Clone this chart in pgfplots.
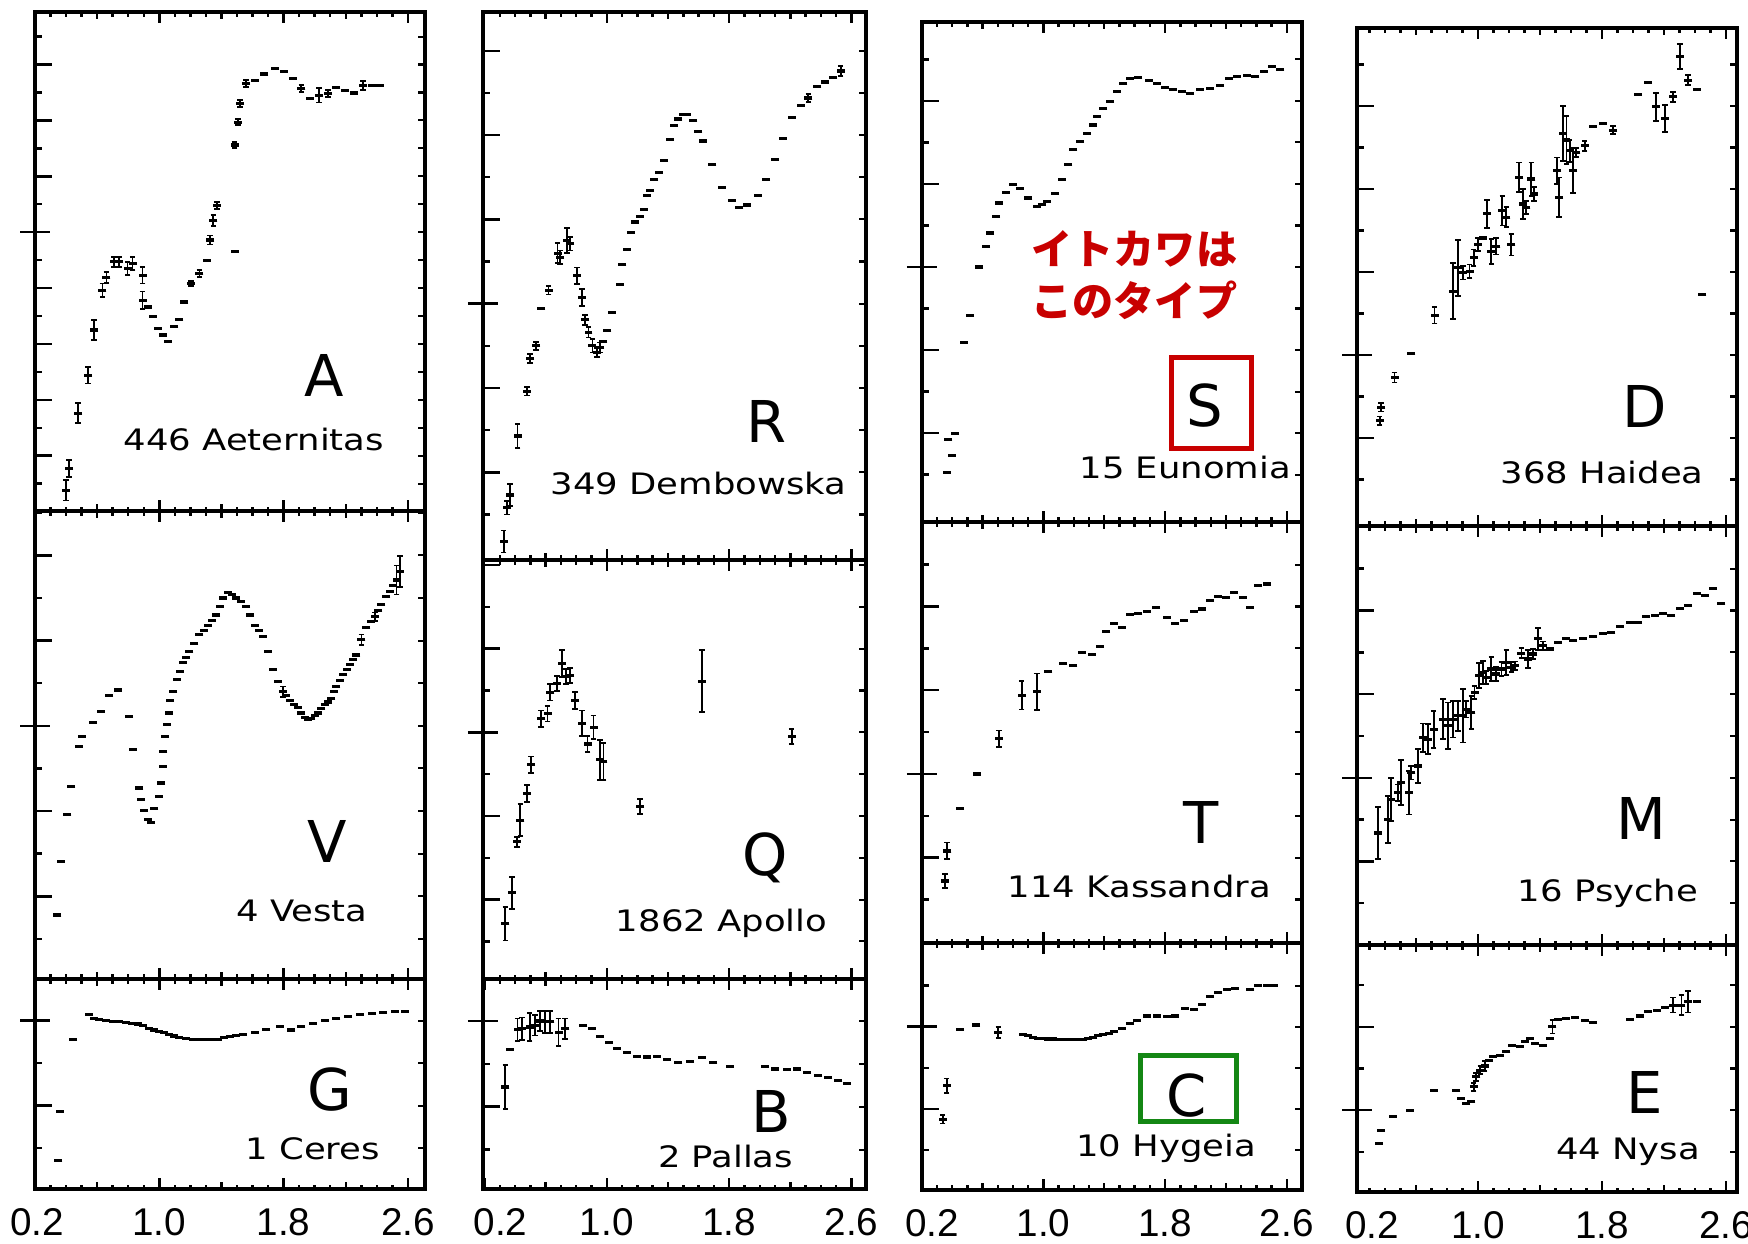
\documentclass[border=0pt]{standalone}
\usepackage{pgfplots}
\usepackage{pgfplotstable}
\pgfplotsset{compat=1.18}
\usepackage{fontspec}
\setmainfont{Liberation Sans}
\newfontfamily\namefont{DejaVu Sans}[FakeStretch=1.2]
\newfontfamily\typefont{DejaVu Sans}
\newfontfamily\jpfont{Noto Sans CJK JP}
\definecolor{annored}{RGB}{200,0,0}
\definecolor{annogreen}{RGB}{20,135,20}

% ---------------- reflectance spectra: wavelength (um), relative reflectance, error ----------------
\pgfplotstableread[row sep=\\]{
x y e\\
0.398 0.538 0.018\\ 0.419 0.577 0.015\\ 0.477 0.676 0.018\\ 0.542 0.744 0.015\\
0.581 0.825 0.018\\ 0.634 0.896 0.012\\ 0.660 0.919 0.010\\ 0.710 0.947 0.009\\
0.742 0.947 0.009\\ 0.796 0.935 0.012\\ 0.828 0.944 0.012\\ 0.892 0.923 0.015\\
0.892 0.878 0.016\\ 0.925 0.866 0\\ 0.957 0.849 0\\ 0.989 0.828 0\\
1.022 0.816 0\\ 1.054 0.804 0\\ 1.097 0.831 0\\ 1.129 0.843 0\\
1.161 0.875 0\\ 1.204 0.908 0.005\\ 1.258 0.926 0.006\\ 1.305 0.950 0\\
1.327 0.986 0.008\\ 1.348 1.021 0.010\\ 1.370 1.048 0.006\\ 1.484 1.156 0.006\\
1.505 1.197 0.005\\ 1.520 1.230 0.006\\ 1.559 1.266 0.006\\ 1.613 1.272 0\\
1.677 1.283 0\\ 1.742 1.293 0\\ 1.800 1.287 0\\ 1.860 1.275 0\\
1.914 1.257 0.006\\ 1.968 1.239 0\\ 2.028 1.245 0.013\\ 2.086 1.248 0.006\\
2.140 1.259 0\\ 2.194 1.253 0\\ 2.252 1.249 0\\ 2.312 1.263 0.008\\
2.366 1.263 0\\ 2.419 1.263 0\\ 1.488 0.965 0\\
}\tabA
\pgfplotstableread[row sep=\\]{
x y e\\
0.344 0.778 0\\ 0.366 0.841 0\\ 0.409 0.896 0\\ 0.434 0.929 0\\
0.480 0.976 0\\ 0.501 0.987 0\\ 0.574 1.004 0\\ 0.624 1.017 0\\
0.677 1.036 0\\ 0.731 1.042 0\\ 0.806 1.011 0\\ 0.828 0.972 0\\
0.871 0.927 0\\ 0.882 0.914 0\\ 0.903 0.901 0\\ 0.925 0.890 0\\
0.946 0.887 0\\ 0.968 0.903 0\\ 0.996 0.917 0\\ 1.011 0.933 0\\
1.022 0.952 0\\ 1.026 0.970 0\\ 1.037 0.987 0\\ 1.049 1.002 0\\
1.060 1.015 0\\ 1.069 1.030 0\\ 1.090 1.040 0\\ 1.112 1.054 0\\
1.130 1.064 0\\ 1.151 1.074 0\\ 1.172 1.080 0\\ 1.194 1.087 0\\
1.225 1.097 0\\ 1.258 1.107 0\\ 1.285 1.112 0\\ 1.312 1.118 0\\
1.340 1.124 0\\ 1.366 1.130 0\\ 1.390 1.140 0\\ 1.409 1.150 0\\
1.441 1.156 0\\ 1.468 1.154 0\\ 1.495 1.150 0\\ 1.525 1.146 0\\
1.559 1.140 0\\ 1.585 1.130 0\\ 1.613 1.118 0\\ 1.640 1.112 0\\
1.667 1.105 0\\ 1.699 1.087 0\\ 1.731 1.066 0\\ 1.763 1.052 0\\
1.796 1.040 0.006\\ 1.815 1.036 0\\ 1.839 1.030 0\\ 1.865 1.025 0\\
1.892 1.021 0\\ 1.915 1.015 0\\ 1.935 1.010 0\\ 1.957 1.008 0\\
1.978 1.009 0\\ 2.000 1.012 0\\ 2.022 1.015 0\\ 2.043 1.020 0\\
2.065 1.025 0\\ 2.087 1.028 0\\ 2.108 1.032 0\\ 2.125 1.040 0\\
2.140 1.046 0\\ 2.162 1.053 0\\ 2.183 1.060 0\\ 2.205 1.066 0\\
2.226 1.072 0\\ 2.248 1.078 0\\ 2.269 1.083 0\\ 2.301 1.101 0.006\\
2.333 1.115 0\\ 2.360 1.122 0\\ 2.387 1.128 0.005\\ 2.410 1.135 0\\
2.430 1.142 0\\ 2.462 1.152 0\\ 2.485 1.158 0\\ 2.505 1.165 0\\
2.527 1.171 0.017\\ 2.548 1.181 0.018\\
}\tabV
\pgfplotstableread[row sep=\\]{
x y e\\
0.351 0.836 0\\ 0.359 0.893 0\\ 0.445 0.978 0\\ 0.548 1.007 0\\
0.580 1.003 0\\ 0.613 1.001 0\\ 0.656 1.000 0\\ 0.699 0.999 0\\
0.742 0.999 0\\ 0.785 0.998 0\\ 0.822 0.997 0\\ 0.860 0.996 0\\
0.897 0.994 0\\ 0.935 0.991 0\\ 0.968 0.989 0\\ 1.000 0.987 0\\
1.032 0.986 0\\ 1.065 0.984 0\\ 1.097 0.982 0\\ 1.129 0.980 0\\
1.172 0.979 0\\ 1.215 0.978 0\\ 1.258 0.978 0\\ 1.301 0.978 0\\
1.338 0.978 0\\ 1.376 0.978 0\\ 1.414 0.980 0\\ 1.452 0.981 0\\
1.495 0.983 0\\ 1.538 0.984 0\\ 1.613 0.986 0\\ 1.688 0.990 0\\
1.774 0.993 0\\ 1.849 0.989 0\\ 1.914 0.993 0\\ 1.989 0.997 0\\
2.065 1.000 0\\ 2.140 1.003 0\\ 2.215 1.005 0\\ 2.290 1.007 0\\
2.366 1.008 0\\ 2.441 1.010 0\\ 2.516 1.011 0\\ 2.581 1.011 0\\
}\tabG
\pgfplotstableread[row sep=\\]{
x y e\\
0.325 0.718 0.013\\ 0.346 0.758 0.008\\ 0.368 0.773 0.013\\ 0.416 0.843 0.014\\
0.477 0.896 0.005\\ 0.499 0.935 0.005\\ 0.538 0.950 0.005\\ 0.571 0.994 0\\
0.619 1.016 0.005\\ 0.678 1.060 0.012\\ 0.695 1.055 0.008\\ 0.739 1.075 0.015\\
0.760 1.071 0.008\\ 0.804 1.033 0.010\\ 0.837 1.007 0.010\\ 0.858 0.981 0.006\\
0.880 0.966 0.006\\ 0.906 0.950 0.008\\ 0.935 0.942 0.005\\ 0.956 0.948 0.006\\
0.978 0.955 0\\ 1.004 0.968 0\\ 1.033 0.990 0\\ 1.083 1.023 0\\
1.102 1.046 0\\ 1.131 1.064 0\\ 1.157 1.084 0\\ 1.185 1.097 0\\
1.214 1.103 0\\ 1.240 1.112 0\\ 1.261 1.128 0\\ 1.283 1.134 0\\
1.311 1.147 0\\ 1.338 1.156 0\\ 1.375 1.170 0\\ 1.414 1.195 0\\
1.440 1.211 0\\ 1.468 1.219 0\\ 1.500 1.224 0\\ 1.523 1.224 0\\
1.566 1.217 0\\ 1.599 1.204 0\\ 1.627 1.193 0\\ 1.691 1.165 0\\
1.752 1.138 0\\ 1.817 1.122 0\\ 1.867 1.114 0\\ 1.915 1.117 0\\
1.987 1.128 0\\ 2.041 1.147 0\\ 2.100 1.171 0\\ 2.150 1.196 0\\
2.209 1.221 0\\ 2.268 1.235 0\\ 2.318 1.244 0.005\\ 2.377 1.258 0\\
2.427 1.263 0\\ 2.481 1.268 0\\ 2.529 1.276 0.006\\
}\tabR
\pgfplotstableread[row sep=\\]{
x y e\\
0.336 0.771 0.020\\ 0.379 0.808 0.019\\ 0.412 0.869 0.006\\ 0.434 0.895 0.019\\
0.477 0.927 0.010\\ 0.505 0.961 0.010\\ 0.571 1.016 0.010\\ 0.612 1.022 0.009\\
0.630 1.048 0.010\\ 0.673 1.058 0.009\\ 0.706 1.082 0.016\\ 0.734 1.067 0.009\\
0.760 1.068 0.009\\ 0.793 1.038 0.010\\ 0.837 1.011 0.015\\ 0.874 0.986 0.010\\
0.913 1.006 0.014\\ 0.956 0.967 0.024\\ 0.978 0.965 0.022\\ 1.218 0.911 0.009\\
1.621 1.061 0.037\\ 2.209 0.995 0.009\\
}\tabQ
\pgfplotstableread[row sep=\\]{
x y e\\
0.336 0.923 0.026\\ 0.364 0.967 0\\ 0.416 0.990 0.013\\ 0.444 0.991 0.013\\
0.495 0.993 0.016\\ 0.532 0.995 0.012\\ 0.564 1.000 0.012\\ 0.597 0.999 0.013\\
0.630 0.999 0.013\\ 0.684 0.987 0.016\\ 0.728 0.991 0.012\\ 0.847 0.995 0\\
0.902 0.991 0\\ 0.956 0.982 0\\ 1.011 0.975 0\\ 1.065 0.968 0\\
1.131 0.963 0\\ 1.196 0.959 0\\ 1.261 0.958 0\\ 1.327 0.959 0\\
1.392 0.955 0\\ 1.468 0.952 0\\ 1.545 0.953 0\\ 1.621 0.957 0\\
1.697 0.952 0\\ 1.806 0.947 0\\ 2.035 0.947 0\\ 2.100 0.944 0\\
2.176 0.943 0\\ 2.242 0.944 0\\ 2.307 0.940 0\\ 2.383 0.936 0\\
2.449 0.934 0\\ 2.514 0.931 0\\ 2.569 0.927 0\\
}\tabB
\pgfplotstableread[row sep=\\]{
x y e\\
0.364 0.753 0\\ 0.375 0.792 0\\ 0.397 0.773 0\\ 0.419 0.800 0\\
0.478 0.909 0\\ 0.518 0.942 0\\ 0.577 1.000 0\\ 0.623 1.025 0\\
0.649 1.041 0\\ 0.689 1.061 0\\ 0.708 1.077 0\\ 0.754 1.090 0\\
0.803 1.099 0\\ 0.846 1.095 0\\ 0.901 1.083 0\\ 0.956 1.073 0\\
0.990 1.075 0\\ 1.022 1.079 0\\ 1.077 1.089 0\\ 1.121 1.105 0\\
1.164 1.123 0\\ 1.197 1.141 0\\ 1.241 1.151 0\\ 1.285 1.161 0\\
1.325 1.171 0\\ 1.351 1.181 0\\ 1.395 1.191 0\\ 1.439 1.199 0\\
1.482 1.211 0\\ 1.526 1.221 0\\ 1.570 1.227 0\\ 1.625 1.228 0\\
1.691 1.225 0\\ 1.746 1.221 0\\ 1.800 1.216 0\\ 1.855 1.214 0\\
1.910 1.211 0\\ 1.965 1.209 0\\ 2.031 1.214 0\\ 2.096 1.215 0\\
2.162 1.219 0\\ 2.217 1.227 0\\ 2.272 1.229 0\\ 2.338 1.231 0\\
2.393 1.229 0\\ 2.447 1.235 0\\ 2.502 1.241 0\\ 2.557 1.238 0\\
}\tabS
\pgfplotstableread[row sep=\\]{
x y e\\
0.353 0.872 0.008\\ 0.368 0.908 0.010\\ 0.452 0.959 0\\ 0.561 1.000 0\\
0.708 1.042 0.010\\ 0.857 1.094 0.017\\ 0.956 1.098 0.022\\ 1.033 1.122 0\\
1.132 1.132 0\\ 1.197 1.130 0\\ 1.252 1.145 0\\ 1.318 1.143 0\\
1.373 1.152 0\\ 1.412 1.170 0\\ 1.461 1.180 0\\ 1.515 1.175 0\\
1.570 1.190 0\\ 1.625 1.192 0\\ 1.680 1.194 0\\ 1.741 1.199 0\\
1.811 1.187 0\\ 1.866 1.180 0\\ 1.925 1.183 0\\ 1.987 1.194 0\\
2.042 1.197 0\\ 2.096 1.207 0\\ 2.151 1.212 0\\ 2.202 1.211 0\\
2.254 1.217 0\\ 2.311 1.211 0\\ 2.355 1.199 0\\ 2.414 1.225 0\\
2.469 1.227 0\\
}\tabT
\pgfplotstableread[row sep=\\]{
x y e\\
0.338 0.887 0.005\\ 0.364 0.928 0.009\\ 0.452 0.997 0\\ 0.557 1.002 0\\
0.704 0.993 0.007\\ 0.868 0.991 0\\ 0.900 0.989 0\\ 0.934 0.987 0\\
0.967 0.986 0\\ 1.000 0.986 0\\ 1.033 0.985 0\\ 1.066 0.985 0\\
1.099 0.984 0\\ 1.132 0.984 0\\ 1.165 0.984 0\\ 1.197 0.984 0\\
1.230 0.984 0\\ 1.263 0.984 0\\ 1.296 0.986 0\\ 1.329 0.987 0\\
1.362 0.989 0\\ 1.395 0.990 0\\ 1.428 0.992 0\\ 1.461 0.994 0\\
1.515 0.998 0\\ 1.570 1.004 0\\ 1.614 1.008 0\\ 1.680 1.013 0\\
1.746 1.013 0\\ 1.811 1.012 0\\ 1.866 1.013 0\\ 1.932 1.022 0\\
1.987 1.021 0\\ 2.042 1.027 0\\ 2.096 1.037 0\\ 2.151 1.042 0\\
2.206 1.045 0\\ 2.261 1.047 0\\ 2.360 1.045 0\\ 2.414 1.050 0\\
2.469 1.050 0\\ 2.513 1.050 0\\
}\tabC
\pgfplotstableread[row sep=\\]{
x y e\\
0.366 0.921 0.005\\ 0.376 0.937 0.005\\ 0.462 0.973 0.006\\ 0.570 1.002 0\\
0.720 1.048 0.010\\ 0.839 1.077 0.034\\ 0.871 1.105 0.034\\ 0.903 1.099 0.008\\
0.946 1.101 0.008\\ 0.972 1.117 0.010\\ 1.000 1.133 0.008\\ 1.032 1.141 0\\
1.058 1.170 0.017\\ 1.086 1.125 0.015\\ 1.118 1.131 0.010\\ 1.157 1.174 0.018\\
1.183 1.166 0.012\\ 1.215 1.133 0.013\\ 1.265 1.214 0.018\\ 1.290 1.182 0.018\\
1.312 1.178 0.008\\ 1.344 1.212 0.020\\ 1.361 1.194 0.008\\ 1.510 1.222 0.016\\
1.523 1.190 0.024\\ 1.548 1.267 0.033\\ 1.570 1.259 0.029\\ 1.591 1.246 0.013\\
1.613 1.222 0.027\\ 1.634 1.244 0.005\\ 1.688 1.252 0.006\\ 1.742 1.275 0\\
1.806 1.279 0\\ 1.871 1.271 0.005\\ 2.032 1.314 0\\ 2.097 1.328 0\\
2.146 1.299 0.017\\ 2.204 1.285 0.016\\ 2.258 1.311 0.006\\ 2.301 1.360 0.015\\
2.355 1.331 0.006\\ 2.409 1.320 0\\ 2.447 1.073 0\\
}\tabD
\pgfplotstableread[row sep=\\]{
x y e\\
0.355 0.934 0.031\\ 0.419 0.950 0.028\\ 0.441 0.974 0.026\\ 0.484 0.982 0.010\\
0.505 0.994 0.027\\ 0.555 0.982 0.026\\ 0.570 1.006 0.008\\ 0.613 1.014 0.020\\
0.645 1.048 0.017\\ 0.677 1.046 0.018\\ 0.714 1.058 0.022\\ 0.774 1.070 0.024\\
0.806 1.062 0.028\\ 0.839 1.070 0.022\\ 0.871 1.074 0.018\\ 0.903 1.074 0.032\\
0.925 1.082 0.010\\ 0.957 1.078 0.020\\ 0.978 1.102 0.008\\ 1.006 1.122 0.015\\
1.032 1.126 0.014\\ 1.054 1.120 0.008\\ 1.086 1.130 0.014\\ 1.118 1.124 0.008\\
1.151 1.130 0.008\\ 1.183 1.138 0.015\\ 1.215 1.132 0.006\\ 1.237 1.134 0.005\\
1.280 1.149 0.006\\ 1.323 1.142 0.011\\ 1.355 1.148 0.006\\ 1.387 1.166 0.013\\
1.419 1.158 0.005\\ 1.462 1.154 0\\ 1.516 1.162 0\\ 1.570 1.166 0\\
1.613 1.164 0\\ 1.677 1.166 0\\ 1.742 1.169 0\\ 1.806 1.172 0\\
1.860 1.174 0\\ 1.914 1.181 0\\ 1.978 1.186 0\\ 2.032 1.186 0\\
2.086 1.193 0\\ 2.140 1.194 0\\ 2.194 1.196 0\\ 2.247 1.194 0\\
2.301 1.202 0\\ 2.355 1.206 0\\ 2.409 1.220 0\\ 2.462 1.218 0\\
2.516 1.226 0\\ 2.570 1.208 0\\
}\tabM
\pgfplotstableread[row sep=\\]{
x y e\\
0.361 0.960 0\\ 0.376 0.976 0\\ 0.452 0.992 0\\ 0.559 1.000 0\\
0.714 1.024 0\\ 0.860 1.024 0\\ 0.892 1.014 0\\ 0.925 1.008 0\\
0.957 1.010 0\\ 0.972 1.028 0.005\\ 0.989 1.040 0.005\\ 1.015 1.048 0.005\\
1.043 1.053 0.006\\ 1.070 1.060 0\\ 1.097 1.064 0\\ 1.140 1.066 0\\
1.183 1.070 0\\ 1.222 1.078 0\\ 1.269 1.076 0\\ 1.301 1.082 0\\
1.333 1.086 0\\ 1.366 1.080 0\\ 1.419 1.078 0\\ 1.462 1.086 0\\
1.480 1.100 0.008\\ 1.516 1.109 0\\ 1.570 1.110 0\\ 1.624 1.111 0\\
1.688 1.108 0\\ 1.742 1.105 0\\ 1.978 1.109 0\\ 2.043 1.113 0\\
2.097 1.118 0\\ 2.151 1.120 0\\ 2.204 1.123 0\\ 2.258 1.126 0.009\\
2.312 1.126 0.012\\ 2.355 1.130 0.013\\ 2.409 1.130 0\\
}\tabE

\pgfplotsset{
  frame/.style={scale only axis, anchor=north west},
  spec/.style={frame,
    axis line style={line width=0.9pt},
    tick style={black, line width=0.7pt},
    tick align=inside,
    xtick={1.0,1.8,2.6}, xticklabels={},
    minor xtick={0.3,0.4,0.5,0.7,0.8,0.9,1.1,1.2,1.3,1.5,1.6,1.7,1.9,2.0,2.1,2.3,2.4,2.5},
    extra x ticks={0.6,1.4,2.2}, extra x tick labels={},
    extra x tick style={major tick length=0.07cm},
    major tick length=0.11cm, minor tick length=0.045cm,
    ytick=\empty},
  % bottom row: wavelength labels; the first one is nudged right by half of #2
  bottom/.style 2 args={xtick={#1,1.0,1.8,2.6},
    xticklabels={\hspace*{#2}0.2,1.0,1.8,2.6},
    xticklabel style={font=\fontsize{11}{11}\selectfont, yshift=-2pt}},
  lticks/.style={frame, hide x axis, axis line style={line width=0.9pt},
    tick style={black, line width=0.7pt}, tick align=inside,
    ytick pos=left, yticklabels={}, major tick length=0.17cm, minor tick length=0.07cm,
    extra y ticks={1.0}, extra y tick labels={},
    extra y tick style={tick align=center, major tick length=0.30cm},
    xmin=0, xmax=1},
  rticks/.style={frame, hide x axis, axis line style={line width=0.9pt},
    tick style={black, line width=0.6pt}, tick align=inside,
    ytick pos=right, yticklabels={}, major tick length=0.07cm, xmin=0, xmax=1},
  dat/.style={black, only marks, mark=-, mark size=0.04cm, mark options={line width=0.9pt}},
  errs/.style={dat,
    restrict expr to domain={\thisrow{e}}{0.001:1},
    error bars/.cd, y dir=both, y explicit,
    error bar style={line width=0.5pt},
    error mark options={rotate=90, line width=0.5pt, mark size=0.028cm}},
  % panel frames: position, size and reflectance range
  pA/.style={at={(0.35cm,-0.12cm)}, width=3.90cm, height=4.99cm, ymin=0.501, ymax=1.394},
  pV/.style={at={(0.35cm,-5.11cm)}, width=3.90cm, height=4.68cm, ymin=0.703, ymax=1.252},
  pG/.style={at={(0.35cm,-9.79cm)}, width=3.90cm, height=2.10cm, ymin=0.802, ymax=1.049},
  pR/.style={at={(4.83cm,-0.12cm)}, width=3.83cm, height=5.48cm, ymin=0.696, ymax=1.346},
  pQ/.style={at={(4.83cm,-5.60cm)}, width=3.83cm, height=4.19cm, ymin=0.705, ymax=1.206},
  pB/.style={at={(4.83cm,-9.79cm)}, width=3.83cm, height=2.10cm, ymin=0.804, ymax=1.049},
  pS/.style={at={(9.22cm,-0.22cm)}, width=3.80cm, height=5.00cm, ymin=0.693, ymax=1.295},
  pT/.style={at={(9.22cm,-5.22cm)}, width=3.80cm, height=4.21cm, ymin=0.798, ymax=1.301},
  pC/.style={at={(9.22cm,-9.43cm)}, width=3.80cm, height=2.47cm, ymin=0.801, ymax=1.102},
  pD/.style={at={(13.57cm,-0.28cm)}, width=3.80cm, height=4.98cm, ymin=0.794, ymax=1.394},
  pM/.style={at={(13.57cm,-5.26cm)}, width=3.80cm, height=4.19cm, ymin=0.800, ymax=1.301},
  pE/.style={at={(13.57cm,-9.45cm)}, width=3.80cm, height=2.47cm, ymin=0.902, ymax=1.198},
}

% left ticks (major + half steps, long reference tick at 1.0) and right ticks
\newcommand{\yframe}[3]{%
  \begin{axis}[lticks, #1, ytick={#2}, minor ytick={#3}]\end{axis}
  \begin{axis}[rticks, #1, ytick={#2,#3,1.0}]\end{axis}}
% one spectrum: marks plus error bars where an error is given
\newcommand{\spectrum}[1]{%
  \addplot[dat] table[x=x, y=y]{#1};
  \addplot[errs] table[x=x, y=y, y error=e]{#1};}

\begin{document}
\begin{tikzpicture}
\useasboundingbox (0,0) rectangle (17.48cm,-12.44cm);

% ---------------- column 1 ----------------
\yframe{pA}{0.6,0.7,0.8,0.9,1.1,1.2,1.3}{0.55,0.65,0.75,0.85,0.95,1.05,1.15,1.25,1.35}
\begin{axis}[spec, pA, xmin=0.2, xmax=2.71]
\spectrum{\tabA}
\end{axis}

\yframe{pV}{0.8,0.9,1.1,1.2}{0.75,0.85,0.95,1.05,1.15,1.25}
\begin{axis}[spec, pV, xmin=0.2, xmax=2.71]
\spectrum{\tabV}
\end{axis}

\yframe{pG}{0.9}{0.85,0.95}
\begin{axis}[spec, pG, xmin=0.2, xmax=2.71, bottom={0.2}{0.04cm}]
\spectrum{\tabG}
\end{axis}

% ---------------- column 2 ----------------
\yframe{pR}{0.8,0.9,1.1,1.2,1.3}{0.75,0.85,0.95,1.05,1.15,1.25}
\begin{axis}[spec, pR, xmin=0.19, xmax=2.695]
\spectrum{\tabR}
\end{axis}

\yframe{pQ}{0.8,0.9,1.1,1.2}{0.75,0.85,0.95,1.05,1.15}
\begin{axis}[spec, pQ, xmin=0.19, xmax=2.695]
\spectrum{\tabQ}
\end{axis}

\yframe{pB}{0.9}{0.85,0.95}
\begin{axis}[spec, pB, xmin=0.19, xmax=2.695, bottom={0.2}{0.32cm}]
\spectrum{\tabB}
\end{axis}

% ---------------- column 3 ----------------
\yframe{pS}{0.8,0.9,1.1,1.2}{0.75,0.85,0.95,1.05,1.15,1.25}
\begin{axis}[spec, pS, xmin=0.202, xmax=2.70]
\spectrum{\tabS}
\end{axis}

\yframe{pT}{0.9,1.1,1.2}{0.85,0.95,1.05,1.15,1.25}
\begin{axis}[spec, pT, xmin=0.202, xmax=2.70]
\spectrum{\tabT}
\end{axis}

\yframe{pC}{0.9}{0.85,0.95,1.05}
\begin{axis}[spec, pC, xmin=0.202, xmax=2.70, bottom={0.202}{0.20cm}]
\spectrum{\tabC}
\end{axis}

% ---------------- column 4 ----------------
\yframe{pD}{0.9,1.1,1.2,1.3}{0.85,0.95,1.05,1.15,1.25,1.35}
\begin{axis}[spec, pD, xmin=0.22, xmax=2.67]
\spectrum{\tabD}
\end{axis}

\yframe{pM}{0.9,1.1,1.2}{0.85,0.95,1.05,1.15,1.25}
\begin{axis}[spec, pM, xmin=0.22, xmax=2.67]
\spectrum{\tabM}
\end{axis}

\yframe{pE}{1.1}{0.95,1.05,1.15}
\begin{axis}[spec, pE, xmin=0.22, xmax=2.67, bottom={0.22}{0.30cm}]
\spectrum{\tabE}
\end{axis}

% ---------------- class letters, asteroid names, notes ----------------
\begin{scope}[x=0.01cm, y=-0.01cm,
  cls/.style={font=\typefont\fontsize{16.4}{16.4}\selectfont, inner sep=0pt},
  nm/.style={font=\namefont\fontsize{8.4}{8.4}\selectfont, inner sep=0pt, anchor=base}]
\node[cls] at (324,376) {A};
\node[nm] at (254,451) {446 Aeternitas};
\node[cls] at (327,842) {V};
\node[nm] at (302,922) {4 Vesta};
\node[cls] at (330,1090) {G};
\node[nm] at (313,1160) {1 Ceres};
\node[cls] at (767,422) {R};
\node[nm] at (699,495) {349 Dembowska};
\node[cls] at (766,858) {Q};
\node[nm] at (722,932) {1862 Apollo};
\node[cls] at (772,1112) {B};
\node[nm] at (726,1168) {2 Pallas};
\node[cls] at (1205,406) {S};
\node[nm] at (1186,479) {15 Eunomia};
\node[cls] at (1202,823) {T};
\node[nm] at (1140,898) {114 Kassandra};
\node[cls] at (1187,1096) {C};
\node[nm] at (1167,1157) {10 Hygeia};
\node[cls] at (1646,407) {D};
\node[nm] at (1603,484) {368 Haidea};
\node[cls] at (1642,819) {M};
\node[nm] at (1609,902) {16 Psyche};
\node[cls] at (1646,1093) {E};
\node[nm] at (1629,1160) {44 Nysa};

\draw[annored, line width=1.4pt] (1172,358) rectangle (1252,449);
\draw[annogreen, line width=1.4pt] (1141,1056) rectangle (1237,1122);
\node[font=\jpfont\bfseries\fontsize{11.7}{14}\selectfont, text=annored, inner sep=0pt] at (1135,249) {イトカワは};
\node[font=\jpfont\bfseries\fontsize{11.7}{14}\selectfont, text=annored, inner sep=0pt] at (1135,300) {このタイプ};
\end{scope}
\end{tikzpicture}
\end{document}
